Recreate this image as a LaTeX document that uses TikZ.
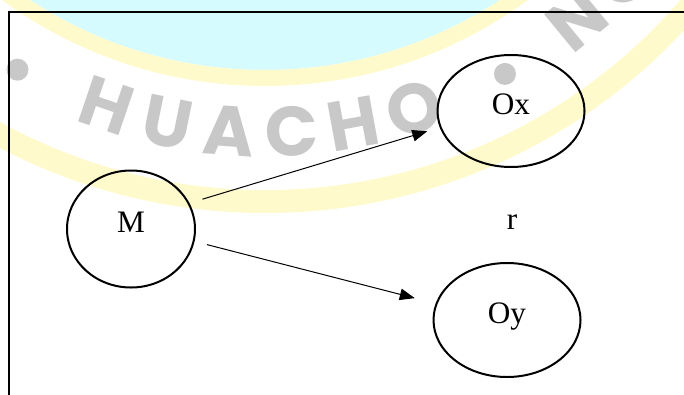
\documentclass[tikz,border=0pt]{standalone}
\usepackage{fontspec}
\setmainfont{Liberation Serif}
\newfontfamily\wmfont{Poppins}
\usetikzlibrary{shapes.geometric, calc, arrows.meta}
\tikzset{>={Triangle[width=4.6pt,length=6pt]}}
\definecolor{wmcyan}{RGB}{214,251,255}
\definecolor{wmyellow}{RGB}{255,250,204}
\definecolor{wmgray}{RGB}{200,200,200}
\def \wmrad {491}

\begin{document}
\begin{tikzpicture}[x=0.4pt, y=0.4pt, font=\fontsize{12.5}{15}\selectfont,
  var/.style={ellipse, draw, line width=0.8pt, inner sep=0pt, outer sep=0pt, text depth=5.6pt},
  wmletter/.style={text=wmgray, font=\wmfont\bfseries\fontsize{28}{30}\selectfont, inner sep=0pt},
  wmdot/.style={circle, fill=wmgray, minimum size=8.8pt, inner sep=0pt}]

\useasboundingbox (0,0) rectangle (684,394);
\clip (0,0) rectangle (684,394);

% watermark behind the figure
\coordinate (logo) at (265,753);
\fill[wmcyan] (logo) circle (429);
\fill[wmyellow, even odd rule] (logo) circle (445) (logo) circle (429);
\fill[wmyellow, even odd rule] (logo) circle (572) (logo) circle (549);

\node (wm_dot1) [wmdot] at ($(logo)+(-120:495)$) {};
\node (wm_h1) [wmletter, rotate=-18.8] at ($(logo)+(-108.8:\wmrad)$) {H};
\node (wm_u) [wmletter, rotate=-11.5] at ($(logo)+(-101.5:\wmrad)$) {U};
\node (wm_a) [wmletter, rotate=-4.2] at ($(logo)+(-94.2:\wmrad)$) {A};
\node (wm_c) [wmletter, rotate=3.1] at ($(logo)+(-86.9:\wmrad)$) {C};
\node (wm_h2) [wmletter, rotate=10.4] at ($(logo)+(-79.6:\wmrad)$) {H};
\node (wm_o1) [wmletter, rotate=17.7] at ($(logo)+(-72.3:\wmrad)$) {O};
\node (wm_dot2) [wmdot] at ($(logo)+(-61:495)$) {};
\node (wm_n) [wmletter, rotate=39.5] at ($(logo)+(-50.5:\wmrad)$) {N};
\node (wm_o2) [wmletter, rotate=46.8] at ($(logo)+(-43.2:\wmrad)$) {O};

\draw[line width=1pt] (9,-10) |- (700,382);

\node (sample) [var, minimum width = 51.2pt, minimum height = 46.8pt] at (131,165) {M};

\node (var_x) [var, minimum width = 58.8pt, minimum height = 44.8pt] at (511,283) {Ox};

\node (var_y) [var, minimum width = 58.8pt, minimum height = 45.6pt] at (507,74) {Oy};

\node (corr) at (512,172) {r};

\draw[->, line width=0.4pt, shorten <=5.8pt, shorten >=5.6pt] (sample.24) -- (var_x.193);
\draw[->, line width=0.4pt, shorten <=5.5pt, shorten >=9pt] (sample.-11) -- (var_y.167);

\end{tikzpicture}
\end{document}
